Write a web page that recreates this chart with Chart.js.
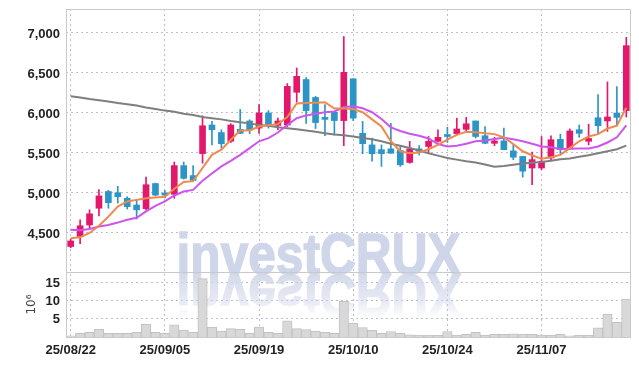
<!DOCTYPE html>
<html><head><meta charset="utf-8">
<script src="https://cdn.jsdelivr.net/npm/chart.js@4"></script>
<style>html,body{margin:0;padding:0;background:#fff;overflow:hidden}#wrap{width:639px;height:366px;position:relative}</style>
</head><body><div id="wrap"><canvas id="c"></canvas></div>
<script>
const dates = ['25/08/22','25/08/25','25/08/26','25/08/27','25/08/28','25/08/29',
 '25/09/01','25/09/02','25/09/03','25/09/04','25/09/05',
 '25/09/08','25/09/09','25/09/10','25/09/11','25/09/12',
 '25/09/15','25/09/16','25/09/17','25/09/18','25/09/19',
 '25/09/22','25/09/23','25/09/24','25/09/25','25/09/26',
 '25/09/29','25/09/30','25/10/01','25/10/02','25/10/10',
 '25/10/13','25/10/14','25/10/15','25/10/16','25/10/17',
 '25/10/20','25/10/21','25/10/22','25/10/23','25/10/24',
 '25/10/27','25/10/28','25/10/29','25/10/30','25/10/31',
 '25/11/03','25/11/04','25/11/05','25/11/06','25/11/07',
 '25/11/10','25/11/11','25/11/12','25/11/13','25/11/14',
 '25/11/17','25/11/18','25/11/19','25/11/20'];
const opens = [4320,4445,4590,4800,5010,4995,4925,4840,4795,5110,4975,4975,5335,5210,5485,5845,5750,5640,5790,5895,5805,5995,5840,5845,6255,6415,6190,5940,6005,5900,6425,5740,5595,5535,5545,5525,5375,5545,5575,5640,5710,5735,5790,5895,5710,5615,5645,5520,5450,5305,5305,5430,5665,5545,5785,5640,5935,5895,5995,6025];
const highs = [4415,4655,4780,5035,5025,5075,4945,4905,5190,5115,5025,5380,5380,5335,5960,5890,5785,5860,6040,5910,6100,6025,5930,6365,6560,6440,6205,6100,6005,6955,6425,5890,5680,5595,5865,5575,5640,5585,5700,5785,5815,5930,5940,5895,5825,5690,5805,5595,5450,5505,5700,5710,5730,5795,5845,5855,6225,6385,6325,6945];
const lows = [4305,4355,4550,4705,4800,4865,4790,4665,4780,4955,4930,4925,5165,5140,5365,5595,5555,5625,5735,5735,5740,5805,5785,5825,6130,5865,5800,5710,5720,5585,5900,5485,5390,5325,5490,5325,5365,5470,5490,5630,5625,5720,5765,5680,5610,5585,5535,5410,5190,5095,5285,5410,5480,5535,5690,5595,5735,5765,5835,5945];
const closes = [4390,4580,4730,4955,4870,4945,4820,4780,5095,4965,4965,5335,5175,5150,5835,5785,5610,5845,5740,5785,5995,5845,5895,6330,6455,6025,5875,5915,5900,6505,5930,5610,5485,5485,5490,5345,5545,5515,5640,5690,5700,5795,5860,5700,5615,5645,5535,5440,5265,5410,5390,5660,5535,5770,5740,5675,5835,5945,5940,6840];
const volumes = [0.3,1.0,1.25,2.1,1.0,1.0,1.0,1.25,3.5,1.25,1.0,3.3,1.9,1.25,16.0,2.7,1.6,2.3,2.1,1.0,2.7,1.25,1.0,4.4,2.3,2.0,1.6,1.25,1.0,9.8,3.8,2.6,1.8,1.0,1.5,1.0,0.6,0.45,0.45,0.45,1.5,0.5,0.7,1.25,0.5,0.7,0.7,0.9,0.7,0.7,0.5,0.5,0.7,0.35,0.5,0.5,2.5,6.3,4.0,10.4];
const ma5 = [4425,4435,4490,4580,4695,4820,4885,4905,4925,4935,4945,5045,5130,5140,5305,5470,5535,5660,5775,5775,5825,5840,5855,5945,6115,6120,6125,6130,6050,6050,6045,6005,5915,5825,5640,5515,5490,5500,5540,5595,5660,5720,5760,5755,5740,5730,5690,5605,5515,5465,5420,5440,5470,5555,5640,5700,5730,5800,5835,6060];
const ma10 = [4530,4525,4540,4570,4590,4620,4655,4680,4760,4830,4885,4960,5010,5030,5145,5235,5325,5395,5470,5555,5640,5680,5750,5845,5930,5965,5985,6005,6015,6070,6080,6055,6005,5920,5815,5770,5735,5710,5675,5605,5575,5585,5610,5640,5650,5670,5685,5665,5640,5610,5575,5565,5540,5545,5550,5550,5575,5625,5690,5840];
const maLong = [6205,6190,6170,6155,6140,6120,6105,6090,6065,6045,6025,6010,5985,5970,5945,5930,5915,5895,5880,5865,5845,5835,5815,5805,5790,5775,5760,5740,5725,5715,5700,5680,5665,5640,5610,5585,5555,5525,5490,5460,5430,5410,5390,5375,5350,5320,5330,5345,5360,5370,5380,5395,5415,5425,5445,5465,5490,5515,5540,5585];
const priceTicks = [4500,5000,5500,6000,6500,7000];
const volumeTicks = [5,10,15];

const UP = '#e2186a', DOWN = '#2d95c6';
const candleColors = closes.map((c,i)=> c >= opens[i] ? UP : DOWN);
const GRID = 'rgba(165,165,205,0.75)';
const tickFont = {family:'"Liberation Sans", Arial, sans-serif', size:13, weight:'bold'};

const watermark = {
  id:'wm',
  beforeDatasetsDraw(chart){
    const {ctx, chartArea:a, scales} = chart;
    const base = scales.y.bottom + 1.5;
    const cx = a.left + a.width*0.447;
    const text = 'investCRUX';
    ctx.save();
    ctx.beginPath(); ctx.rect(a.left,a.top,a.width,a.height); ctx.clip();
    ctx.font = 'bold 58px "Liberation Sans", Arial, sans-serif';
    const w = ctx.measureText(text).width;
    const sx = 284 / w;
    ctx.save();
    ctx.translate(cx, base); ctx.scale(sx,1);
    ctx.fillStyle = '#d0d6e9'; ctx.strokeStyle='#d0d6e9'; ctx.lineWidth=1.5;
    ctx.textAlign='center'; ctx.textBaseline='alphabetic';
    ctx.fillText(text,0,0); ctx.strokeText(text,0,0);
    ctx.restore();
    const off = document.createElement('canvas');
    off.width = chart.width; off.height = 50;
    const o = off.getContext('2d');
    o.font = ctx.font;
    o.save(); o.translate(cx, 1); o.scale(sx,-1);
    o.fillStyle='#d0d6e9'; o.strokeStyle='#d0d6e9'; o.lineWidth=1.5;
    o.textAlign='center'; o.textBaseline='alphabetic';
    o.fillText(text,0,0); o.strokeText(text,0,0); o.restore();
    o.globalCompositeOperation='destination-in';
    const g = o.createLinearGradient(0,0,0,45);
    g.addColorStop(0,'rgba(0,0,0,0.9)'); g.addColorStop(0.6,'rgba(0,0,0,0.5)'); g.addColorStop(1,'rgba(0,0,0,0)');
    o.fillStyle=g; o.fillRect(0,0,off.width,off.height);
    ctx.drawImage(off,0,base+0.5);
    ctx.restore();
  }
};
const frame = {
  id:'frame',
  afterDatasetsDraw(chart){
    const {ctx, chartArea:a, scales} = chart;
    ctx.save();
    ctx.strokeStyle='#c9c9c9'; ctx.lineWidth=1;
    ctx.strokeRect(Math.round(a.left)+0.5, Math.round(a.top)+0.5, Math.round(a.width)-1, Math.round(a.height));
    const yb = Math.round(scales.y.bottom)+0.5;
    ctx.beginPath(); ctx.moveTo(a.left,yb); ctx.lineTo(a.right,yb); ctx.stroke();
    ctx.restore();
  }
};
const noPad = (s)=>{ s.paddingTop = 0; s.paddingBottom = 0; s.paddingLeft = 0; s.paddingRight = 0; };

new Chart(document.getElementById('c'), {
  type:'bar',
  data:{
    labels: dates,
    datasets:[
      {type:'line', label:'MA5', data: ma5, yAxisID:'y', borderColor:'#f0894f', borderWidth:2, pointRadius:0, tension:0, order:0},
      {type:'line', label:'MA10', data: ma10, yAxisID:'y', borderColor:'#cc55ee', borderWidth:2, pointRadius:0, tension:0, order:0},
      {type:'line', label:'MA long', data: maLong, yAxisID:'y', borderColor:'#7f7f7f', borderWidth:2, pointRadius:0, tension:0, order:0},
      {label:'body', data: opens.map((o,i)=>[o, closes[i]]), yAxisID:'y', backgroundColor:candleColors, barThickness:6, minBarLength:2, grouped:false, order:1},
      {label:'wick', data: lows.map((l,i)=>[l, highs[i]]), yAxisID:'y', backgroundColor:candleColors, barThickness:1, grouped:false, order:2},
      {label:'volume', data: volumes, yAxisID:'yv', backgroundColor:'#d8d8d8', borderColor:'#c2c2c2', borderWidth:1, barPercentage:1, categoryPercentage:1, grouped:false, order:3}
    ]
  },
  options:{
    responsive:true, maintainAspectRatio:false, animation:false, devicePixelRatio:1,
    layout:{padding:{top:9, right:8, left:0, bottom:0}},
    plugins:{legend:{display:false}, tooltip:{enabled:false}},
    scales:{
      x:{
        type:'category', offset:true,
        grid:{offset:false, drawTicks:false, color:(c)=> (c.index%10===0 ? GRID : 'rgba(0,0,0,0)'), lineWidth:1},
        border:{display:false, dash:[2,3]},
        ticks:{autoSkip:false, maxRotation:0, minRotation:0, padding:6, color:'#222', font:tickFont,
          callback:(v,i)=> (i%10===0 ? dates[i] : '')},
        afterFit:(s)=>{ s.height = 29; noPad(s); }
      },
      y:{
        type:'linear', position:'left', stack:'s', stackWeight:263, weight:2,
        min:4000, max:7300,
        afterBuildTicks:(s)=>{ s.ticks = priceTicks.map(v=>({value:v})); },
        grid:{drawTicks:false, color:GRID, lineWidth:1},
        border:{display:false, dash:[2,3]},
        ticks:{autoSkip:false, padding:6, labelOffset:2, color:'#222', font:tickFont, callback:(v)=> Number(v).toLocaleString('en-US')},
        afterFit:(s)=>{ s.width = 66; noPad(s); }
      },
      yv:{
        type:'linear', position:'left', stack:'s', stackWeight:65, weight:1,
        min:0, max:17.8,
        afterBuildTicks:(s)=>{ s.ticks = volumeTicks.map(v=>({value:v})); },
        grid:{drawTicks:false, color:GRID, lineWidth:1},
        border:{display:false, dash:[2,3]},
        title:{display:true, text:'10⁶', color:'#444', font:{family:'"DejaVu Sans", sans-serif', size:12}, padding:{top:25, bottom:0}},
        ticks:{autoSkip:false, padding:6, labelOffset:1, color:'#222', font:tickFont},
        afterFit:(s)=>{ s.width = 66; noPad(s); }
      }
    }
  },
  plugins:[watermark, frame]
});
</script></body></html>
